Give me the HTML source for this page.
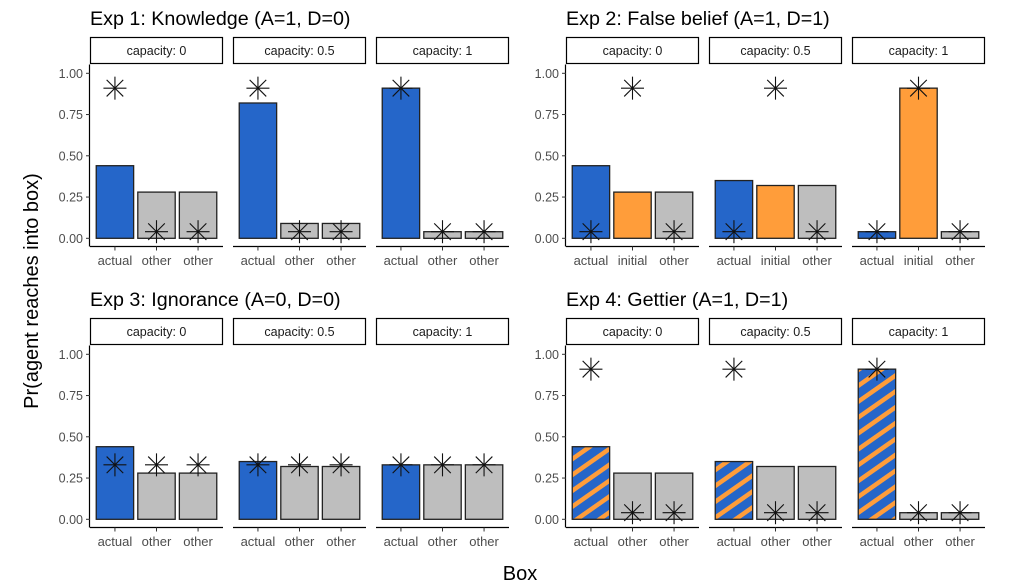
<!DOCTYPE html>
<html><head><meta charset="utf-8">
<style>
html,body{margin:0;padding:0;background:#fff;}
svg{display:block;font-family:"Liberation Sans",Arial,sans-serif;}
</style></head>
<body>
<svg id="chart" width="1010" height="587" viewBox="0 0 1010 587" xmlns="http://www.w3.org/2000/svg">
<defs>
<pattern id="stripes" patternUnits="userSpaceOnUse" width="13" height="13" patternTransform="rotate(-35)">
<rect width="13" height="13" fill="#2566c9"/>
<rect width="13" height="4.5" fill="#ff9d3a"/>
</pattern>
</defs>
<text x="0" y="0" transform="translate(38,291) rotate(-90)" font-size="20" fill="#000" text-anchor="middle">Pr(agent reaches into box)</text>
<text x="520" y="580" font-size="20" fill="#000" text-anchor="middle">Box</text>
</svg>
<script>
const titles = ["Exp 1: Knowledge (A=1, D=0)","Exp 2: False belief (A=1, D=1)","Exp 3: Ignorance (A=0, D=0)","Exp 4: Gettier (A=1, D=1)"];
const capacities = ["0","0.5","1"];
const labelsExp1 = ["actual","other","other"];
const labelsExp2 = ["actual","initial","other"];
const labelsExp3 = ["actual","other","other"];
const labelsExp4 = ["actual","other","other"];
const fillsExp1 = ["blue","gray","gray"];
const fillsExp2 = ["blue","orange","gray"];
const fillsExp3 = ["blue","gray","gray"];
const fillsExp4 = ["stripe","gray","gray"];
// bar values [capacity][box]
const barsExp1 = [[0.44,0.28,0.28],[0.82,0.09,0.09],[0.91,0.04,0.04]];
const barsExp2 = [[0.44,0.28,0.28],[0.35,0.32,0.32],[0.04,0.91,0.04]];
const barsExp3 = [[0.44,0.28,0.28],[0.35,0.32,0.32],[0.33,0.33,0.33]];
const barsExp4 = [[0.44,0.28,0.28],[0.35,0.32,0.32],[0.91,0.04,0.04]];
// star (human data) values
const starsExp1 = [[0.91,0.04,0.04],[0.91,0.04,0.04],[0.91,0.04,0.04]];
const starsExp2 = [[0.04,0.91,0.04],[0.04,0.91,0.04],[0.04,0.91,0.04]];
const starsExp3 = [[0.33,0.33,0.33],[0.33,0.33,0.33],[0.33,0.33,0.33]];
const starsExp4 = [[0.91,0.04,0.04],[0.91,0.04,0.04],[0.91,0.04,0.04]];
const yTicks = [0,0.25,0.5,0.75,1];
const yTickLabels = ["0.00","0.25","0.50","0.75","1.00"];

const labels=[labelsExp1,labelsExp2,labelsExp3,labelsExp4];
const fills=[fillsExp1,fillsExp2,fillsExp3,fillsExp4];
const bars=[barsExp1,barsExp2,barsExp3,barsExp4];
const stars=[starsExp1,starsExp2,starsExp3,starsExp4];
const colorMap={blue:"#2566c9",orange:"#ff9d3a",gray:"#bebebe",stripe:"url(#stripes)"};
const svg=document.getElementById('chart');
const NS="http://www.w3.org/2000/svg";
function mk(tag,attrs,parent){const e=document.createElementNS(NS,tag);for(const k in attrs)e.setAttribute(k,attrs[k]);(parent||svg).appendChild(e);return e;}
const panelX=[90,566], rowOff=[0,281], facetW=133, facetGap=143;
for(let p=0;p<4;p++){
  const px=panelX[p%2], off=rowOff[Math.floor(p/2)];
  const y0=238.3+off, y1=73.3+off;
  const yS=v=>y0-(y0-y1)*v;
  const t=mk('text',{x:px,y:25+off,'font-size':19.7,fill:'#000'});
  t.textContent=titles[p];
  
  
  const ya=mk('line',{x1:px-0.5,x2:px-0.5,y1:64.5+off,y2:246.5+off,stroke:'#000','stroke-width':1.2});
  
  
  yTicks.forEach((v,i)=>{
    mk('line',{x1:px-4,x2:px,y1:yS(v),y2:yS(v),stroke:'#333','stroke-width':1});
    const tl=mk('text',{x:px-7,y:yS(v)+4.5,'font-size':12.5,fill:'#4d4d4d','text-anchor':'end'});
    tl.textContent=yTickLabels[i];
    
    
  });
  for(let f=0;f<3;f++){
    const fx=px+f*facetGap;
    const unit=facetW/3.2;
    const xS=i=>fx+(0.6+i)*unit;
    const strip=mk('rect',{x:fx+0.5,y:37.5+off,width:facetW-1,height:26,fill:'#fff',stroke:'#000','stroke-width':1.2});
    
    
    const st=mk('text',{x:fx+facetW/2,y:55+off,'font-size':12.5,fill:'#1a1a1a','text-anchor':'middle'});
    st.textContent='capacity: '+capacities[f];
    
    
    const xa=mk('line',{x1:fx,x2:fx+facetW,y1:246.5+off,y2:246.5+off,stroke:'#000','stroke-width':1.2});
    
    
    for(let b=0;b<3;b++){
      const cx=xS(b), w=unit*0.9, v=bars[p][f][b];
      const r=mk('rect',{x:cx-w/2,y:yS(v),width:w,height:y0-yS(v),fill:colorMap[fills[p][b]],stroke:'#222','stroke-width':1.3});
      
      
      mk('line',{x1:cx,x2:cx,y1:246.5+off,y2:250.5+off,stroke:'#333','stroke-width':1});
      const xl=mk('text',{x:cx,y:265+off,'font-size':13,fill:'#4d4d4d','text-anchor':'middle'});
      xl.textContent=labels[p][b];
      
      
    }
    for(let b=0;b<3;b++){
      const cx=xS(b), cy=yS(stars[p][f][b]), R=11.5, d=8.3;
      const g=mk('g',{stroke:'#111','stroke-width':1.1});
      
      
      mk('line',{x1:cx-R,x2:cx+R,y1:cy,y2:cy},g);
      mk('line',{x1:cx,x2:cx,y1:cy-R,y2:cy+R},g);
      mk('line',{x1:cx-d,x2:cx+d,y1:cy-d,y2:cy+d},g);
      mk('line',{x1:cx-d,x2:cx+d,y1:cy+d,y2:cy-d},g);
    }
  }
}
</script>
</body></html>
